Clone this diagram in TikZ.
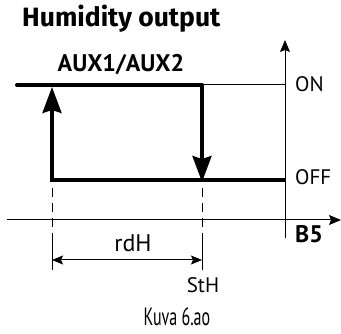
\documentclass[tikz,border=0pt]{standalone}
\usepackage{fontspec}
\setmainfont{PT Sans}
\newfontfamily\headfont{Fira Sans}
\usetikzlibrary{arrows.meta}

\begin{document}
\begin{tikzpicture}[x=1pt, y=-1pt,
    thickline/.style={line width=4pt},
    bigarrow/.style={line width=3.4pt, -{Stealth[length=26pt, width=19pt, inset=3pt]}},
    axis/.style={line width=1pt, -{Stealth[length=12pt, width=10pt, inset=2pt]}},
    guide/.style={line width=1pt, dash pattern=on 9pt off 6pt},
    tick/.style={line width=1pt},
    lbl/.style={font=\fontsize{21}{24}\selectfont, inner sep=0pt},
    boldlbl/.style={font=\bfseries\fontsize{24}{26}\selectfont, inner sep=0pt}
]
\useasboundingbox (0,0) rectangle (341,334);

% titles
\node[boldlbl, anchor=base west, font=\headfont\bfseries\fontsize{26.5}{28}\selectfont] (title) at (22,27) {Humidity output};
\node[boldlbl, anchor=base] (aux) at (121,72) {AUX1/AUX2};

% axes
\coordinate (xl) at (7,220);
\coordinate (xr) at (341,220);
\coordinate (yb) at (285,238);
\coordinate (yt) at (285,40);
\draw[axis] (xl) -- (xr);
\draw[axis] (yb) -- (yt);

% output levels
\coordinate (onL) at (17,85);
\coordinate (onR) at (202,85);
\coordinate (onA) at (285,85);
\coordinate (offL) at (52,180);
\coordinate (offR) at (202,180);
\coordinate (offA) at (285,180);
\draw[tick] (onR) -- (onA);
\draw[thickline, line cap=round] (onL) -- (onR);
\draw[thickline] ([xshift=-1.7pt]offL) -- (offA);
\draw[thickline] (onR) -- ([yshift=1pt]onR |- 0,150);
\draw[bigarrow] ([yshift=2pt]offR |- 0,150) -- ([yshift=-2pt]offR);
\draw[bigarrow] ([yshift=2pt]offL) -- (52,87);

\node[lbl, anchor=base west] (on) at (295,92) {ON};
\node[lbl, anchor=base west] (off) at (295,185) {OFF};
\node[boldlbl, anchor=base west] (b5) at (295,243) {B5};

% thresholds
\coordinate (g1t) at (52,188);
\coordinate (g1m) at (52,233);
\coordinate (g1b) at (52,270);
\coordinate (g2t) at (202,188);
\coordinate (g2m) at (202,233);
\coordinate (g2b) at (202,270);
\draw[guide] (g1t) -- (g1m);
\draw[guide] (g2t) -- (g2m);
\draw[tick] (g1m) -- (g1b);
\draw[tick] (g2m) -- (g2b);
\draw[tick, {Stealth[length=11pt, width=9pt, inset=2pt]}-{Stealth[length=11pt, width=9pt, inset=2pt]}]
    (52,260) -- node[lbl, above=8pt, xshift=6pt, font=\fontsize{24}{26}\selectfont] (rdh) {rdH} (202,260);
\node[lbl, anchor=base] (sth) at (203,293) {StH};

\node[lbl, anchor=base, font=\addfontfeatures{FakeStretch=0.64}\fontsize{25}{27}\selectfont] (cap) at (177,326) {Kuva 6.ao};
\end{tikzpicture}
\end{document}
